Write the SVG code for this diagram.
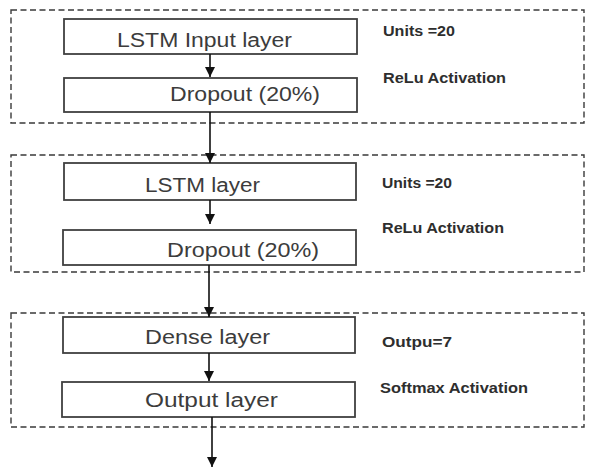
<svg xmlns="http://www.w3.org/2000/svg" width="603" height="469" viewBox="0 0 603 469">
  <style>
    .grp { fill: none; stroke: #3a3a3a; stroke-width: 1.4; stroke-dasharray: 6 3.5; }
    .box { fill: #ffffff; stroke: #404040; stroke-width: 1.8; }
    .lbl { font-family: "Liberation Sans", Arial, sans-serif; font-size: 20px; fill: #3c3c3c; }
    .note { font-family: "Liberation Sans", Arial, sans-serif; font-size: 14.5px; font-weight: bold; fill: #2e2e2e; }
    .conn { stroke: #111111; stroke-width: 1.6; fill: none; marker-end: url(#arrow); }
  </style>
  <defs>
    <marker id="arrow" markerUnits="userSpaceOnUse" markerWidth="10" markerHeight="10" refX="10" refY="5" orient="auto">
      <path d="M0,0 L10,5 L0,10 z" fill="#111111"/>
    </marker>
  </defs>
  <rect width="603" height="469" fill="#ffffff"/>

  <g id="block1">
    <rect class="grp" x="11" y="10" width="573" height="113"/>
    <text class="note" x="383" y="36" textLength="72" lengthAdjust="spacingAndGlyphs">Units =20</text>
    <text class="note" x="383" y="83" textLength="123" lengthAdjust="spacingAndGlyphs">ReLu Activation</text>
  </g>
  <g id="block2">
    <rect class="grp" x="11" y="155" width="573" height="117"/>
    <text class="note" x="382" y="188" textLength="70" lengthAdjust="spacingAndGlyphs">Units =20</text>
    <text class="note" x="382" y="233" textLength="122" lengthAdjust="spacingAndGlyphs">ReLu Activation</text>
  </g>
  <g id="block3">
    <rect class="grp" x="11" y="313" width="573" height="114"/>
    <text class="note" x="382" y="347" textLength="70" lengthAdjust="spacingAndGlyphs">Outpu=7</text>
    <text class="note" x="380" y="393" textLength="148" lengthAdjust="spacingAndGlyphs">Softmax Activation</text>
  </g>

  <g id="lstm-input">
    <rect class="box" x="64" y="19" width="293" height="35"/>
    <text class="lbl" x="117" y="47" textLength="175" lengthAdjust="spacingAndGlyphs">LSTM Input layer</text>
  </g>
  <g id="dropout1">
    <rect class="box" x="64" y="78" width="293" height="34"/>
    <text class="lbl" x="170" y="101" textLength="150" lengthAdjust="spacingAndGlyphs">Dropout (20%)</text>
  </g>
  <g id="lstm-layer">
    <rect class="box" x="64" y="163" width="292" height="37"/>
    <text class="lbl" x="145" y="192" textLength="115" lengthAdjust="spacingAndGlyphs">LSTM layer</text>
  </g>
  <g id="dropout2">
    <rect class="box" x="63" y="230" width="293" height="35"/>
    <text class="lbl" x="167" y="257" textLength="152" lengthAdjust="spacingAndGlyphs">Dropout (20%)</text>
  </g>
  <g id="dense">
    <rect class="box" x="63" y="317" width="292" height="36"/>
    <text class="lbl" x="145" y="344" textLength="125" lengthAdjust="spacingAndGlyphs">Dense layer</text>
  </g>
  <g id="output">
    <rect class="box" x="62" y="382" width="293" height="35"/>
    <text class="lbl" x="145" y="407" textLength="133" lengthAdjust="spacingAndGlyphs">Output layer</text>
  </g>

  <g id="connectors">
    <line class="conn" x1="210" y1="54" x2="210" y2="77"/>
    <line class="conn" x1="210" y1="112" x2="210" y2="163"/>
    <line class="conn" x1="210" y1="200" x2="210" y2="224"/>
    <line class="conn" x1="209" y1="265" x2="209" y2="317"/>
    <line class="conn" x1="209" y1="353" x2="209" y2="381"/>
    <line class="conn" x1="212" y1="417" x2="212" y2="467"/>
  </g>
</svg>
